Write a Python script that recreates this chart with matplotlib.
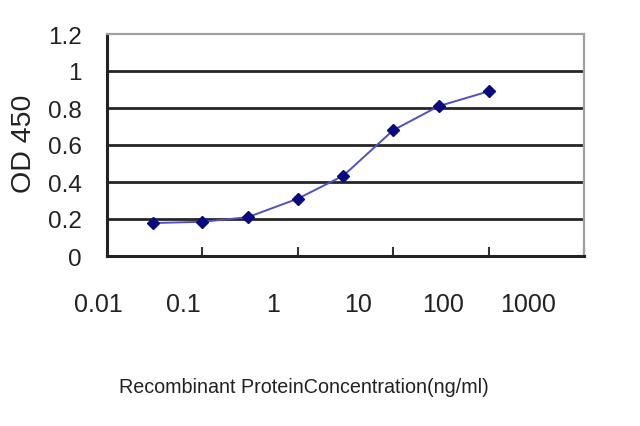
import matplotlib
matplotlib.use('Agg')
import matplotlib.pyplot as plt
import matplotlib.transforms as mtransforms

conc = [0.03, 0.1, 0.3, 1, 3, 10, 30, 100]
od450 = [0.178, 0.185, 0.21, 0.31, 0.434, 0.68, 0.81, 0.89]
xticks = [0.01, 0.1, 1, 10, 100, 1000]
xtick_labels = ['0.01', '0.1', '1', '10', '100', '1000']
yticks = [0, 0.2, 0.4, 0.6, 0.8, 1, 1.2]
ytick_labels = ['0', '0.2', '0.4', '0.6', '0.8', '1', '1.2']

FONT = ['Liberation Sans', 'DejaVu Sans']

fig = plt.figure(figsize=(6.4, 4.27), dpi=100)
ax = fig.add_axes([107 / 640, 170 / 427, 477 / 640, 222 / 427])

for y in yticks[1:-1]:
    ax.axhline(y, color='#262626', lw=2.0, zorder=1)

ax.plot(conc, od450, color='#5050c0', lw=1.4, zorder=3)
ax.plot(conc, od450, ls='none', marker='D', ms=6.5, color='#0a0a80', zorder=4)

ax.set_xscale('log')
ax.set_xlim(0.01, 1000)
ax.set_ylim(0, 1.2)
ax.minorticks_off()

ax.set_xticks(xticks)
ax.set_xticklabels(xtick_labels, family=FONT, fontsize=18, color='#222222')
ax.set_yticks(yticks)
ax.set_yticklabels(ytick_labels, family=FONT, fontsize=17.5, color='#222222')
ax.tick_params(axis='x', direction='in', length=6.5, width=1.5, color='#333333', pad=26)
ax.tick_params(axis='y', length=0, pad=18)

# tick labels in the source sit progressively left of their ticks
shifts_px = [-8.5, -19.5, -25, -35, -46, -56]
for lab, dx in zip(ax.get_xticklabels(), shifts_px):
    off = mtransforms.ScaledTranslation(dx / 100, 0, fig.dpi_scale_trans)
    lab.set_transform(lab.get_transform() + off)

for side in ['left', 'bottom']:
    ax.spines[side].set_color('#222222')
    ax.spines[side].set_linewidth(2.2)
for side in ['top', 'right']:
    ax.spines[side].set_color('#a0a0a0')
    ax.spines[side].set_linewidth(1.6)

ax.set_xlabel('Recombinant ProteinConcentration(ng/ml)', family=FONT,
              fontsize=14.2, color='#222222')
ax.xaxis.set_label_coords(0.413, -0.59)
ax.xaxis.label.set_va('center')
ax.set_ylabel('OD 450', family=FONT, fontsize=20.5, color='#222222')
ax.yaxis.set_label_coords(-0.174, 0.509)
ax.yaxis.label.set_va('center')

fig.savefig('out.png', dpi=100, facecolor='white')
